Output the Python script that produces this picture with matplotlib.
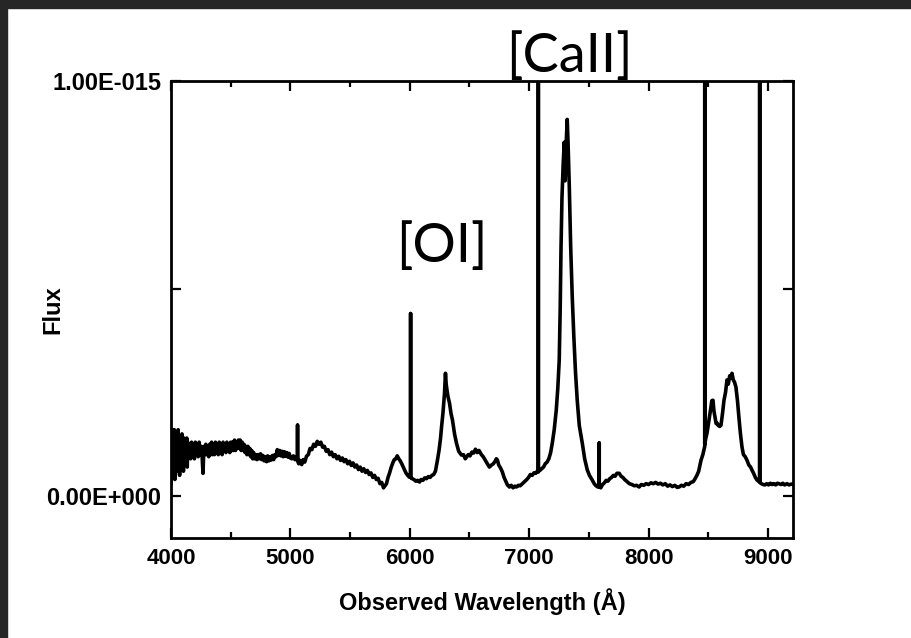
#!/usr/bin/env python3
import matplotlib
matplotlib.use('Agg')
import matplotlib.pyplot as plt
from matplotlib.patches import Rectangle

# spectrum: wavelength in Angstrom, flux in units of 1e-15
# (line-by-line the two lists correspond; spikes are repeated wavelengths)
wavelength = [
    4000, 4004, 4008, 4012, 4016, 4020, 4024, 4028, 4032, 4036,
    4040, 4044, 4048, 4052, 4056, 4060, 4064, 4068, 4072, 4076,
    4080, 4084, 4088, 4092, 4096, 4100, 4104, 4108, 4112, 4116,
    4120, 4124, 4128, 4132, 4136, 4140, 4144, 4148,
    4156, 4164, 4172, 4180, 4188, 4196, 4204, 4212, 4220, 4228,
    4236, 4244, 4252, 4260, 4268, 4276, 4284, 4292, 4300, 4308,
    4316, 4324, 4332, 4340, 4348, 4356, 4364, 4372, 4380, 4388,
    4396, 4404, 4412, 4420, 4428, 4436, 4444, 4452, 4460, 4468,
    4476, 4484, 4492, 4500, 4508, 4516, 4524, 4532, 4540, 4548,
    4556, 4564, 4572, 4580, 4588, 4596, 4604, 4612, 4620, 4628,
    4636, 4644, 4652, 4660, 4668, 4676, 4684, 4692, 4700,
    4710, 4720, 4730, 4740, 4750, 4760, 4770, 4780, 4790, 4800,
    4810, 4820, 4830, 4840, 4850, 4860, 4870, 4880, 4890, 4900,
    4910, 4920, 4930, 4940, 4950, 4960, 4970, 4980, 4990, 5000,
    5012, 5025, 5038, 5050, 5060, 5060, 5060, 5070, 5082, 5095,
    5108, 5120, 5135, 5150, 5165, 5180, 5195, 5210, 5225, 5240,
    5255, 5270, 5285, 5300, 5315, 5330, 5345, 5360, 5375, 5390,
    5405, 5420, 5435, 5450, 5465, 5480, 5495, 5510, 5525, 5540,
    5555, 5570, 5585, 5600, 5615, 5630, 5645, 5660, 5675, 5690,
    5705, 5720, 5735, 5750, 5765, 5780, 5792, 5805, 5818, 5830,
    5845, 5858, 5870, 5883, 5895, 5908, 5920, 5933, 5945, 5958,
    5970, 5983, 5995, 6007, 6007, 6007,
    6020, 6035, 6050, 6065, 6082, 6095, 6110, 6125, 6140, 6155,
    6170, 6185, 6200, 6215, 6232, 6245, 6258, 6266, 6278, 6291,
    6299, 6305, 6312, 6320, 6333, 6345, 6358, 6375, 6391, 6410,
    6433, 6450, 6465, 6475, 6490, 6505, 6520, 6535, 6550, 6565,
    6580, 6600, 6615, 6635, 6650, 6667, 6685, 6700, 6715, 6725,
    6734, 6745, 6760, 6776, 6790, 6805, 6818, 6835, 6850, 6865,
    6880, 6893, 6910, 6925, 6943, 6960, 6980, 6995, 7010, 7025,
    7040, 7055, 7068, 7077, 7077, 7077, 7090, 7105,
    7120, 7135, 7150, 7165, 7180, 7194, 7210, 7227, 7240, 7252,
    7260, 7267, 7275, 7285, 7294, 7302, 7310, 7319, 7326, 7336,
    7348, 7361, 7375, 7388, 7403, 7420, 7445, 7465, 7487, 7505,
    7528, 7545, 7560, 7575, 7587, 7587, 7587, 7600,
    7615, 7630, 7645, 7660, 7675, 7690, 7705, 7720, 7735, 7754,
    7770, 7785, 7800, 7820, 7840, 7860, 7880, 7900, 7921, 7940,
    7960, 7980, 8000, 8020, 8040, 8060, 8080, 8100, 8120, 8140,
    8160, 8180, 8200, 8220, 8240, 8256, 8275, 8295, 8315, 8335,
    8355, 8375, 8390, 8405, 8420, 8440, 8455, 8471, 8471, 8471,
    8480, 8490, 8505, 8515, 8523, 8530, 8540, 8548, 8557, 8566,
    8574, 8585, 8596, 8607, 8620, 8632, 8645, 8657, 8668, 8680,
    8690, 8699, 8710, 8720, 8732, 8745, 8757, 8770, 8783, 8795,
    8810, 8824, 8840, 8855, 8866, 8880, 8895, 8908, 8920, 8931,
    8931, 8931, 8945, 8960, 8975, 8990, 9005, 9020, 9035, 9050,
    9065, 9080, 9092, 9110, 9125, 9140, 9160, 9176, 9195, 9210,
]
flux = [
    0.03, 0.15, 0.07, 0.16, 0.05, 0.14, 0.09, 0.16, 0.04, 0.13,
    0.08, 0.15, 0.06, 0.14, 0.10, 0.16, 0.07, 0.12, 0.05, 0.14,
    0.09, 0.13, 0.07, 0.15, 0.08, 0.12, 0.06, 0.14, 0.09, 0.13,
    0.08, 0.12, 0.10, 0.14, 0.07, 0.13, 0.09, 0.12,
    0.12, 0.09, 0.13, 0.10, 0.12, 0.09, 0.13, 0.10, 0.12, 0.095,
    0.13, 0.10, 0.12, 0.10, 0.055, 0.12, 0.10, 0.125, 0.10, 0.12,
    0.095, 0.125, 0.10, 0.13, 0.10, 0.12, 0.10, 0.13, 0.105, 0.125,
    0.10, 0.13, 0.105, 0.125, 0.10, 0.13, 0.11, 0.125, 0.105, 0.13,
    0.11, 0.125, 0.105, 0.13, 0.11, 0.13, 0.11, 0.135, 0.11, 0.13,
    0.115, 0.135, 0.115, 0.135, 0.11, 0.13, 0.11, 0.125, 0.105, 0.12,
    0.10, 0.12, 0.10, 0.115, 0.095, 0.11, 0.09, 0.105, 0.09,
    0.10, 0.088, 0.10, 0.09, 0.102, 0.088, 0.098, 0.085, 0.095, 0.083,
    0.097, 0.085, 0.095, 0.087, 0.098, 0.088, 0.10, 0.095, 0.112, 0.098,
    0.11, 0.097, 0.108, 0.095, 0.107, 0.096, 0.105, 0.094, 0.103, 0.092,
    0.09, 0.097, 0.088, 0.095, 0.088, 0.171, 0.085, 0.078, 0.086, 0.076,
    0.088, 0.082, 0.096, 0.10, 0.115, 0.112, 0.125, 0.12, 0.132, 0.125,
    0.13, 0.118, 0.12, 0.108, 0.112, 0.10, 0.106, 0.095, 0.10, 0.09,
    0.096, 0.086, 0.092, 0.083, 0.088, 0.078, 0.084, 0.074, 0.08, 0.07,
    0.075, 0.064, 0.07, 0.06, 0.066, 0.057, 0.062, 0.052, 0.056, 0.045,
    0.05, 0.04, 0.043, 0.03, 0.033, 0.02, 0.025, 0.03, 0.045, 0.055,
    0.07, 0.08, 0.088, 0.09, 0.097, 0.09, 0.085, 0.078, 0.07, 0.062,
    0.055, 0.05, 0.046, 0.045, 0.44, 0.045,
    0.042, 0.04, 0.036, 0.038, 0.034, 0.04, 0.038, 0.044, 0.042, 0.047,
    0.045, 0.05, 0.052, 0.06, 0.087, 0.11, 0.14, 0.166, 0.20, 0.248,
    0.296, 0.27, 0.255, 0.24, 0.224, 0.20, 0.183, 0.15, 0.128, 0.108,
    0.099, 0.10, 0.09, 0.094, 0.10, 0.097, 0.106, 0.104, 0.113, 0.105,
    0.11, 0.10, 0.095, 0.085, 0.078, 0.07, 0.075, 0.078, 0.084, 0.09,
    0.087, 0.075, 0.068, 0.058, 0.045, 0.035, 0.027, 0.022, 0.026, 0.02,
    0.024, 0.022, 0.026, 0.025, 0.03, 0.035, 0.04, 0.045, 0.052, 0.05,
    0.056, 0.055, 0.06, 0.058, 1.30, 0.06, 0.062, 0.066,
    0.07, 0.078, 0.082, 0.09, 0.105, 0.128, 0.16, 0.207, 0.26, 0.328,
    0.45, 0.60, 0.72, 0.80, 0.853, 0.76, 0.85, 0.908, 0.85, 0.75,
    0.60, 0.48, 0.38, 0.30, 0.23, 0.17, 0.128, 0.09, 0.063, 0.05,
    0.039, 0.03, 0.025, 0.022, 0.022, 0.128, 0.024, 0.02,
    0.028, 0.032, 0.038, 0.036, 0.042, 0.045, 0.05, 0.048, 0.055, 0.055,
    0.048, 0.045, 0.04, 0.035, 0.03, 0.028, 0.025, 0.026, 0.022, 0.028,
    0.026, 0.03, 0.028, 0.032, 0.03, 0.033, 0.029, 0.031, 0.027, 0.03,
    0.024, 0.027, 0.023, 0.026, 0.021, 0.022, 0.026, 0.024, 0.03, 0.028,
    0.033, 0.035, 0.042, 0.05, 0.06, 0.087, 0.10, 0.12, 1.30, 0.125,
    0.14, 0.152, 0.18, 0.20, 0.215, 0.23, 0.231, 0.205, 0.19, 0.175,
    0.176, 0.17, 0.168, 0.171, 0.20, 0.231, 0.25, 0.28, 0.27, 0.29,
    0.285, 0.296, 0.28, 0.275, 0.263, 0.23, 0.19, 0.15, 0.118, 0.10,
    0.095, 0.087, 0.075, 0.07, 0.063, 0.055, 0.045, 0.039, 0.036, 0.035,
    1.30, 0.033, 0.03, 0.028, 0.027, 0.03, 0.027, 0.031, 0.028, 0.03,
    0.027, 0.031, 0.03, 0.028, 0.031, 0.027, 0.03, 0.027, 0.029, 0.028,
]

flux_scale = 1e-15
x_ticks = [4000, 5000, 6000, 7000, 8000, 9000]
x_minor_ticks = [4500, 5500, 6500, 7500, 8500]
y_ticks = [0.0, 0.5e-15, 1.0e-15]
y_tick_labels = ['0.00E+000', '', '1.00E-015']

line_labels = ['[OI]', '[CaII]']
line_label_x = [6266, 7336]
line_label_y = [0.564e-15, 1.022e-15]


def plot_spectrum(output_file):
    assert len(wavelength) == len(flux)
    plt.rcParams['font.family'] = ['Liberation Sans', 'DejaVu Sans']
    fig = plt.figure(figsize=(9.12, 6.38), dpi=100)
    ax = fig.add_axes([0.1875, 0.1567, 0.682, 0.716])

    y = [f * flux_scale for f in flux]
    ax.plot(wavelength, y, color='black', linewidth=2.6)

    ax.set_xlim(4000, 9210)
    ax.set_ylim(-0.101e-15, 1.0e-15)
    ax.set_xticks(x_ticks)
    ax.set_xticks(x_minor_ticks, minor=True)
    ax.set_yticks(y_ticks)
    ax.set_yticklabels(y_tick_labels)

    for side in ax.spines.values():
        side.set_linewidth(2.0)
    ax.tick_params(which='both', direction='in', top=True, right=True, width=1.6)
    ax.tick_params(which='major', length=7, pad=7)
    ax.tick_params(which='minor', length=4)
    ax.tick_params(axis='x', labelsize=16)
    ax.tick_params(axis='y', labelsize=17)
    for lbl in ax.get_xticklabels() + ax.get_yticklabels():
        lbl.set_fontweight('bold')

    ax.set_xlabel('Observed Wavelength (Å)', fontsize=17, fontweight='bold', labelpad=14)
    ax.set_ylabel('Flux', fontsize=17, fontweight='bold')
    ax.yaxis.set_label_coords(-0.172, 0.5)

    for text, xp, yp in zip(line_labels, line_label_x, line_label_y):
        ax.text(xp, yp, text, fontsize=39, family=['Lato', 'DejaVu Sans'],
                ha='center', va='baseline', clip_on=False)

    # dark frame strips from the screenshot
    fig.patches.append(Rectangle((0, 1 - 8 / 638), 1, 8 / 638, transform=fig.transFigure,
                                 color='#262626', zorder=10))
    fig.patches.append(Rectangle((0, 0), 7 / 912, 1, transform=fig.transFigure,
                                 color='#262626', zorder=10))

    fig.savefig(output_file, dpi=100)
    plt.close(fig)


def main():
    plot_spectrum('out.png')


if __name__ == '__main__':
    main()
